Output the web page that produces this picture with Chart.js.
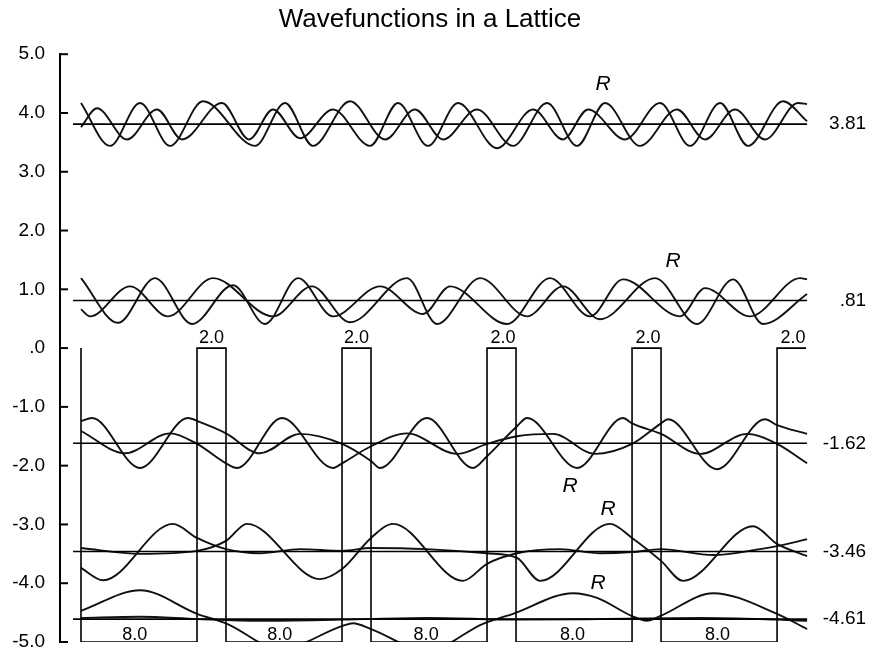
<!DOCTYPE html>
<html>
<head>
<meta charset="utf-8">
<title>Wavefunctions in a Lattice</title>
<script src="https://cdn.jsdelivr.net/npm/chart.js@4/dist/chart.umd.min.js"></script>
<style>
  html, body { margin: 0; padding: 0; background: #fff; }
  #wrap { width: 873px; height: 654px; }
</style>
</head>
<body>
<div id="wrap"><canvas id="mycanvas"></canvas></div>
<script>
// energy levels, with the labels shown on the right
var levels = [3.81, 0.81, -1.62, -3.46, -4.61];
var levelLabels = ['3.81', '.81', '-1.62', '-3.46', '-4.61'];

// lattice potential (wells 8.0 wide at -5, barriers 2.0 wide at 0)
var potX = [0, 0, 8, 8, 10, 10, 18, 18, 20, 20, 28, 28, 30, 30, 38, 38, 40, 40, 48, 48, 50];
var potV = [0, -5, -5, 0, 0, -5, -5, 0, 0, -5, -5, 0, 0, -5, -5, 0, 0, -5, -5, 0, 0];
var barrierLabelX = [9.0, 19.0, 29.1, 39.1, 49.1];
var wellLabelX = [3.7, 13.7, 23.8, 33.9, 43.9];

// "R" marks (real part)
var rLabelX = [36.0, 40.83, 33.72, 36.34, 35.66];
var rLabelY = [4.49, 1.48, -2.35, -2.74, -4.0];

// E = 3.81
var e1aX = [0, 2.0, 4.07, 6.14, 8.41, 12.0, 14.07, 16.0, 18.55, 20.97, 23.03, 24.97, 27.31, 29.79, 32.14, 34.21, 36.14, 38.55, 41.1, 43.03, 45.1, 47.17, 49.45, 50.07];
var e1aY = [4.17, 3.44, 4.17, 3.44, 4.20, 3.44, 4.17, 3.44, 4.20, 3.55, 4.06, 3.55, 4.06, 3.44, 4.17, 3.44, 4.17, 3.44, 4.06, 3.55, 4.06, 3.55, 4.17, 4.15];
var e1bX = [0, 1.10, 3.17, 5.24, 6.97, 9.72, 11.59, 13.24, 15.1, 17.38, 19.93, 21.86, 23.93, 26.0, 28.69, 31.17, 33.24, 34.97, 37.52, 39.93, 42.0, 44.07, 46.0, 48.41, 50.07];
var e1bY = [3.76, 4.08, 3.55, 4.06, 3.55, 4.17, 3.55, 4.06, 3.57, 4.06, 3.44, 4.17, 3.44, 4.17, 3.40, 4.06, 3.55, 4.06, 3.55, 4.17, 3.44, 4.17, 3.44, 4.20, 3.86];

// E = 0.81
var e2aX = [0, 2.55, 5.10, 7.66, 10.48, 12.69, 14.97, 17.38, 20.62, 23.59, 25.45, 29.38, 32.34, 35.1, 37.38, 41.31, 43.03, 46.14, 49.59, 50.07];
var e2aY = [1.19, 0.43, 1.19, 0.41, 1.07, 0.41, 1.19, 0.54, 1.05, 0.58, 1.05, 0.41, 1.19, 0.54, 1.17, 0.54, 1.02, 0.54, 1.19, 1.17];
var e2bX = [0, 0.62, 3.38, 6.0, 9.10, 13.24, 15.93, 18.55, 22.48, 24.55, 27.52, 30.76, 33.24, 35.79, 39.59, 42.48, 44.97, 47.03, 50.07];
var e2bY = [0.66, 0.54, 1.05, 0.54, 1.19, 0.54, 1.05, 0.44, 1.19, 0.41, 1.19, 0.54, 1.05, 0.49, 1.19, 0.41, 1.17, 0.41, 0.92];

// E = -1.62
var e3aX = [0, 0.76, 4.07, 7.38, 8.21, 10.0, 12.34, 15.1, 18.0, 20.0, 20.62, 23.86, 27.03, 28.0, 30.07, 30.76, 34.21, 37.38, 38.0, 40.0, 42.69, 45.93, 48.0, 50.07];
var e3aY = [-1.24, -1.19, -2.04, -1.19, -1.26, -1.45, -1.79, -1.46, -1.63, -1.92, -2.04, -1.19, -2.04, -1.84, -1.33, -1.19, -2.04, -1.19, -1.28, -1.46, -1.80, -1.46, -1.63, -1.96];
var e3bX = [0, 3.03, 6.14, 8.0, 10.0, 10.76, 13.86, 17.38, 18.0, 20.0, 22.48, 25.93, 28.0, 30.07, 32.55, 35.45, 38.0, 40.0, 40.48, 43.86, 47.17, 48.0, 50.07];
var e3bY = [-1.41, -1.79, -1.45, -1.63, -1.96, -2.04, -1.19, -2.04, -1.96, -1.67, -1.45, -1.80, -1.63, -1.50, -1.46, -1.80, -1.63, -1.28, -1.21, -2.06, -1.21, -1.31, -1.46];

// E = -3.46
var e4aX = [0, 1.52, 6.34, 8.0, 10.0, 12.34, 15.1, 18.0, 20.0, 23.86, 28.0, 30.07, 31.66, 36.48, 38.0, 40.0, 41.52, 46.34, 48.0, 50.07];
var e4aY = [-3.74, -3.95, -2.99, -3.23, -3.42, -3.49, -3.42, -3.45, -3.40, -3.42, -3.49, -3.57, -3.96, -2.99, -3.23, -3.62, -3.96, -3.03, -3.33, -3.54];
var e4bX = [0, 4.07, 8.0, 10.0, 11.45, 16.48, 18.0, 20.0, 21.52, 26.34, 28.0, 30.07, 33.03, 35.79, 38.0, 40.0, 43.59, 46.83, 48.0, 50.07];
var e4bY = [-3.40, -3.50, -3.45, -3.28, -2.99, -3.93, -3.76, -3.23, -2.99, -3.96, -3.67, -3.49, -3.42, -3.49, -3.47, -3.42, -3.52, -3.42, -3.37, -3.25];

// E = -4.61
var e5aX = [0, 4.07, 8.0, 10.07, 13.72, 18.0, 18.76, 20.0, 23.86, 27.72, 29.79, 33.93, 35.59, 38.0, 39.03, 39.93, 43.59, 48.0, 50.07];
var e5aY = [-4.47, -4.12, -4.52, -4.69, -5.12, -4.73, -4.68, -4.78, -5.15, -4.69, -4.52, -4.17, -4.25, -4.56, -4.64, -4.56, -4.17, -4.52, -4.78];
var e5bX = [0, 4.07, 8.0, 12.34, 18.0, 23.86, 30.07, 35.79, 42.69, 48.0, 50.07];
var e5bY = [-4.59, -4.57, -4.61, -4.64, -4.62, -4.59, -4.62, -4.61, -4.59, -4.62, -4.64];

var lineStart = -0.55, lineEnd = 50.07;

function pts(xs, ys) {
  var out = [];
  for (var i = 0; i < xs.length; i++) out.push({x: xs[i], y: ys[i]});
  return out;
}

var datasets = [];
datasets.push({data: pts(potX, potV), borderColor: '#000', borderWidth: 1.6, tension: 0});
for (var i = 0; i < levels.length; i++) {
  datasets.push({data: [{x: lineStart, y: levels[i]}, {x: lineEnd, y: levels[i]}], borderColor: '#000', borderWidth: 1.6, tension: 0});
}
var waves = [[e1aX, e1aY], [e1bX, e1bY], [e2aX, e2aY], [e2bX, e2bY], [e3aX, e3aY], [e3bX, e3bY], [e4aX, e4aY], [e4bX, e4bY], [e5aX, e5aY], [e5bX, e5bY]];
for (var w = 0; w < waves.length; w++) {
  datasets.push({data: pts(waves[w][0], waves[w][1]), borderColor: '#111', borderWidth: 1.9, cubicInterpolationMode: 'monotone'});
}

var fam = '"Liberation Sans", Arial, Helvetica, sans-serif';
Chart.defaults.font.family = fam;
Chart.defaults.color = '#000';

var textPlugin = {
  id: 'textPlugin',
  afterDraw: function(chart) {
    var ctx = chart.ctx, xs = chart.scales.x, ys = chart.scales.y, area = chart.chartArea;
    ctx.save();
    // inward tick marks on the y axis
    ctx.strokeStyle = '#000';
    ctx.lineWidth = 2;
    ys.ticks.forEach(function(t) {
      var py = ys.getPixelForValue(t.value);
      ctx.beginPath();
      ctx.moveTo(area.left, py);
      ctx.lineTo(area.left + 8, py);
      ctx.stroke();
    });
    ctx.fillStyle = '#000';
    ctx.textBaseline = 'middle';
    ctx.textAlign = 'center';
    ctx.font = '18px ' + fam;
    barrierLabelX.forEach(function(x) {
      ctx.fillText('2.0', xs.getPixelForValue(x), ys.getPixelForValue(0.17));
    });
    wellLabelX.forEach(function(x) {
      ctx.fillText('8.0', xs.getPixelForValue(x), ys.getPixelForValue(-4.88));
    });
    ctx.font = 'italic 21px ' + fam;
    for (var i = 0; i < rLabelX.length; i++) {
      ctx.fillText('R', xs.getPixelForValue(rLabelX[i]), ys.getPixelForValue(rLabelY[i]));
    }
    ctx.textAlign = 'right';
    ctx.font = '19px ' + fam;
    var labelRight = xs.getPixelForValue(lineEnd) + 59;
    for (var j = 0; j < levels.length; j++) {
      ctx.fillText(levelLabels[j], labelRight, ys.getPixelForValue(levels[j]));
    }
    ctx.restore();
  }
};

new Chart(document.getElementById('mycanvas'), {
  type: 'line',
  data: {datasets: datasets},
  options: {
    responsive: true,
    maintainAspectRatio: false,
    animation: false,
    layout: {padding: {left: 0, right: 13, top: 0, bottom: 12}},
    elements: {point: {radius: 0}, line: {fill: false}},
    plugins: {
      legend: {display: false},
      tooltip: {enabled: false},
      title: {
        display: true,
        text: 'Wavefunctions in a Lattice',
        color: '#000',
        font: {size: 26, weight: 'normal'},
        padding: {top: 4, bottom: 19}
      }
    },
    scales: {
      x: {type: 'linear', display: false, min: -1.448, max: 53.72},
      y: {
        min: -5, max: 5,
        grid: {display: false, drawTicks: true, tickLength: 15},
        border: {display: true, color: '#000', width: 2},
        ticks: {
          stepSize: 1, padding: 0, font: {size: 19}, color: '#000',
          callback: function(v) { return v === 0 ? '.0' : v.toFixed(1); }
        },
        afterFit: function(s) { s.width = 60; }
      }
    }
  },
  plugins: [textPlugin]
});
</script>
</body>
</html>
